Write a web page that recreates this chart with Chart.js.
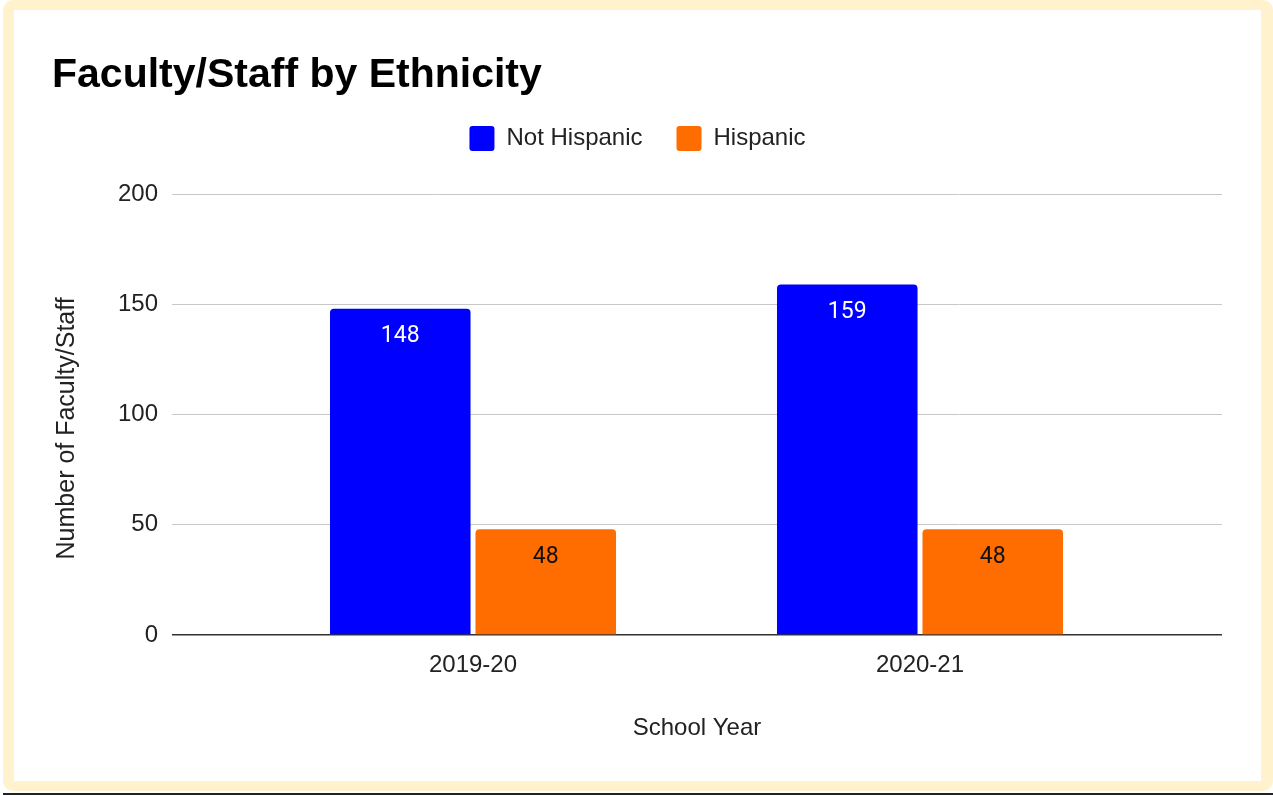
<!DOCTYPE html>
<html>
<head>
<meta charset="utf-8">
<style>
  body { margin: 0; background: #fff; width: 1273px; height: 796px; position: relative; overflow: hidden; }
  .frame { position: absolute; left: 3px; top: 0; width: 1270px; height: 791px; background: #fff2cc; border-radius: 10px; }
  .card { position: absolute; left: 11px; top: 10px; width: 1247px; height: 771px; background: #fff; }
  .rule { position: absolute; left: 3px; right: 0; top: 793px; height: 2px; background: #222; }
</style>
</head>
<body>
<div class="frame"><div class="card"><canvas id="ethnicityChart" width="1247" height="771"></canvas></div></div>
<div class="rule"></div>

<script src="https://cdn.jsdelivr.net/npm/chart.js"></script>
<script>
    const years = ["2019-20", "2020-21"];
    const notHispanic = [148, 159];
    const hispanic = [48, 48];
    const yTicks = [0, 50, 100, 150, 200];
    const labelColors = ["#ffffff", "#111111"];

    Chart.defaults.font.family = '"Liberation Sans", Arial, sans-serif';
    Chart.defaults.color = "#222";

    // value labels inside the top of each bar
    const barLabels = {
        id: "barLabels",
        afterDatasetsDraw(chart) {
            const ctx = chart.ctx;
            ctx.save();
            ctx.font = '23px Roboto, "Liberation Sans", sans-serif';
            ctx.textAlign = "center";
            ctx.textBaseline = "middle";
            chart.data.datasets.forEach((ds, di) => {
                chart.getDatasetMeta(di).data.forEach((bar, i) => {
                    ctx.fillStyle = labelColors[di];
                    ctx.fillText(ds.data[i].y, bar.x, bar.y + 28);
                });
            });
            ctx.restore();
        }
    };

    const toPoints = values => values.map((v, i) => ({ x: i, y: v }));

    new Chart(document.getElementById("ethnicityChart"), {
        type: "bar",
        data: {
            datasets: [
                { label: "Not Hispanic", data: toPoints(notHispanic), backgroundColor: "#0000ff" },
                { label: "Hispanic", data: toPoints(hispanic), backgroundColor: "#ff6d01" }
            ]
        },
        options: {
            responsive: false,
            animation: false,
            layout: { padding: { left: 38, right: 38 } },
            datasets: {
                bar: { categoryPercentage: 0.651, barPercentage: 0.966, borderRadius: 4 }
            },
            scales: {
                x: {
                    type: "linear",
                    offset: false,
                    bounds: "data",
                    min: -0.6734,
                    max: 1.6756,
                    afterBuildTicks: s => { s.ticks = years.map((_, i) => ({ value: i })); },
                    ticks: { callback: v => years[v], padding: 16, font: { size: 24 }, autoSkip: false, maxRotation: 0 },
                    grid: { display: false, drawTicks: false, offset: false },
                    border: { display: false },
                    title: { display: true, text: "School Year", font: { size: 24 }, padding: { bottom: 38 } },
                    afterFit: s => { s.height = 146; }
                },
                xTop: {
                    type: "linear", position: "top", min: 0, max: 1,
                    ticks: { display: false }, grid: { display: false }, border: { display: false },
                    afterFit: s => { s.height = 33; }
                },
                y: {
                    min: 0,
                    max: 200,
                    afterBuildTicks: s => { s.ticks = yTicks.map(v => ({ value: v })); },
                    ticks: { padding: 14, font: { size: 24 } },
                    grid: {
                        drawTicks: false,
                        color: c => c.tick && c.tick.value === 0 ? "#333" : "#c8c8c8",
                        lineWidth: c => c.tick && c.tick.value === 0 ? 1.5 : 1
                    },
                    border: { display: false },
                    title: { display: true, text: "Number of Faculty/Staff    ", font: { size: 25 }, padding: { top: 0 } },
                    afterFit: s => { s.width = 120; }
                },
                yRight: {
                    type: "linear", position: "right", min: 0, max: 1,
                    ticks: { display: false }, grid: { display: false }, border: { display: false },
                    afterFit: s => { s.width = 1; }
                }
            },
            plugins: {
                title: {
                    display: true,
                    text: "Faculty/Staff by Ethnicity",
                    align: "start",
                    color: "#000",
                    font: { size: 41, weight: "bold", lineHeight: 1 },
                    padding: { top: 45, bottom: -4 }
                },
                legend: {
                    position: "top",
                    labels: {
                        boxWidth: 25,
                        boxHeight: 25,
                        padding: 34,
                        font: { size: 24 },
                        useBorderRadius: true,
                        borderRadius: 3
                    }
                },
                tooltip: { enabled: false }
            }
        },
        plugins: [barLabels]
    });
</script>
</body>
</html>
